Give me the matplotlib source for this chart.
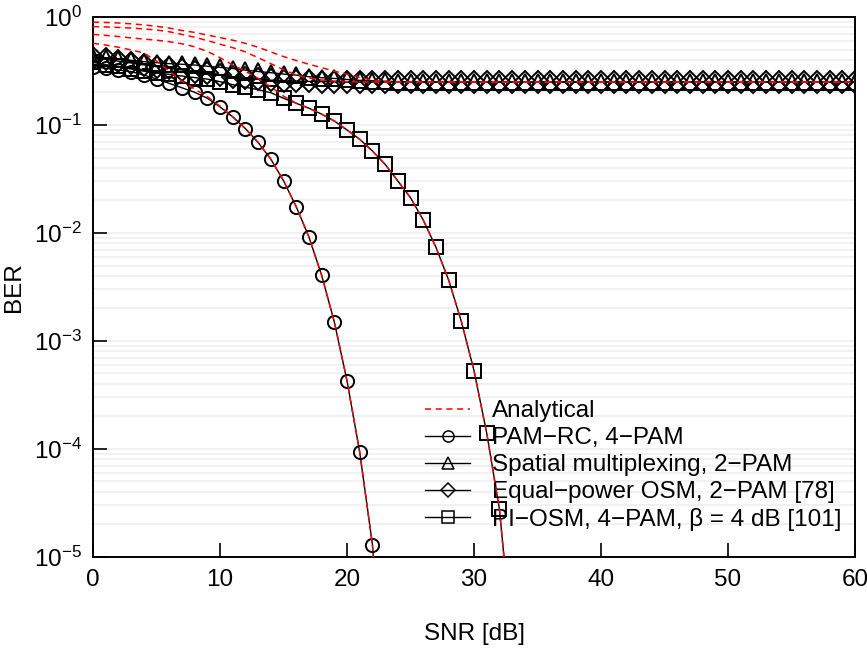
import matplotlib
matplotlib.use("Agg")
import matplotlib.pyplot as plt
from matplotlib.lines import Line2D
from matplotlib.ticker import LogLocator, NullFormatter

plt.rcParams['font.family'] = ['Liberation Sans', 'DejaVu Sans']
plt.rcParams['mathtext.fontset'] = 'custom'
plt.rcParams['mathtext.rm'] = 'Liberation Sans'
plt.rcParams['mathtext.it'] = 'Liberation Sans:italic'

# SNR grid in dB (one marker per dB)
snr = list(range(0, 61))

# simulated BER
pam_rc = [0.347, 0.335, 0.323, 0.312, 0.29, 0.267, 0.243, 0.221, 0.201, 0.177,
          0.147, 0.119, 0.0925, 0.0689, 0.0483, 0.0305, 0.0175, 0.00918, 0.00406,
          0.0015, 4.27e-4, 9.32e-5, 1.3e-5, 3e-7]
sm = [0.43, 0.42, 0.41, 0.397, 0.386, 0.378, 0.37, 0.365, 0.359, 0.35,
      0.342, 0.333, 0.322, 0.313, 0.305, 0.296, 0.29, 0.28, 0.274, 0.27,
      0.264, 0.259, 0.257, 0.254, 0.252, 0.251, 0.25, 0.25, 0.25, 0.25,
      0.25, 0.25, 0.25, 0.25, 0.25, 0.25, 0.25, 0.25, 0.25, 0.25,
      0.25, 0.25, 0.25, 0.25, 0.25, 0.25, 0.25, 0.25, 0.25, 0.25,
      0.25, 0.25, 0.25, 0.25, 0.25, 0.25, 0.25, 0.25, 0.25, 0.25, 0.25]
osm = [0.42, 0.405, 0.39, 0.375, 0.36, 0.347, 0.335, 0.323, 0.312, 0.3,
       0.29, 0.28, 0.272, 0.265, 0.26, 0.257, 0.255, 0.253, 0.252, 0.251,
       0.25, 0.25, 0.25, 0.25, 0.25, 0.25, 0.25, 0.25, 0.25, 0.25,
       0.25, 0.25, 0.25, 0.25, 0.25, 0.25, 0.25, 0.25, 0.25, 0.25,
       0.25, 0.25, 0.25, 0.25, 0.25, 0.25, 0.25, 0.25, 0.25, 0.25,
       0.25, 0.25, 0.25, 0.25, 0.25, 0.25, 0.25, 0.25, 0.25, 0.25, 0.25]
pi_osm = [0.38, 0.362, 0.35, 0.33, 0.315, 0.304, 0.294, 0.284, 0.275, 0.266,
          0.252, 0.236, 0.224, 0.212, 0.199, 0.177, 0.159, 0.143, 0.126, 0.109,
          0.0899, 0.0737, 0.0574, 0.0432, 0.0303, 0.0212, 0.0132, 0.00738, 0.00367,
          0.00152, 5.3e-4, 1.4e-4, 2.77e-5, 1.6e-6]

# analytical curves
ana_pam_rc = [0.571, 0.55, 0.525, 0.495, 0.465, 0.39, 0.315, 0.255, 0.215, 0.183,
              0.149, 0.119, 0.0925, 0.0689, 0.0483, 0.0305, 0.0175, 0.00918, 0.00406,
              0.0015, 4.27e-4, 9.32e-5, 1.3e-5, 3e-7]
ana_sm = [0.895, 0.89, 0.88, 0.865, 0.845, 0.82, 0.79, 0.75, 0.72, 0.68,
          0.645, 0.61, 0.57, 0.525, 0.475, 0.43, 0.395, 0.365, 0.34, 0.315,
          0.295, 0.275, 0.261, 0.254, 0.251, 0.25, 0.25, 0.25, 0.25, 0.25,
          0.25, 0.25, 0.25, 0.25, 0.25, 0.25, 0.25, 0.25, 0.25, 0.25,
          0.25, 0.25, 0.25, 0.25, 0.25, 0.25, 0.25, 0.25, 0.25, 0.25,
          0.25, 0.25, 0.25, 0.25, 0.25, 0.25, 0.25, 0.25, 0.25, 0.25, 0.25]
ana_osm = [0.815, 0.81, 0.8, 0.79, 0.775, 0.758, 0.73, 0.69, 0.65, 0.605,
           0.56, 0.52, 0.475, 0.42, 0.37, 0.325, 0.29, 0.272, 0.261, 0.255,
           0.252, 0.25, 0.25, 0.25, 0.25, 0.25, 0.25, 0.25, 0.25, 0.25,
           0.25, 0.25, 0.25, 0.25, 0.25, 0.25, 0.25, 0.25, 0.25, 0.25,
           0.25, 0.25, 0.25, 0.25, 0.25, 0.25, 0.25, 0.25, 0.25, 0.25,
           0.25, 0.25, 0.25, 0.25, 0.25, 0.25, 0.25, 0.25, 0.25, 0.25, 0.25]
ana_pi_osm = [0.69, 0.675, 0.66, 0.64, 0.625, 0.61, 0.59, 0.565, 0.53, 0.48,
              0.42, 0.36, 0.315, 0.27, 0.225, 0.185, 0.159, 0.143, 0.126, 0.109,
              0.0899, 0.0737, 0.0574, 0.0432, 0.0303, 0.0212, 0.0132, 0.00738, 0.00367,
              0.00152, 5.3e-4, 1.4e-4, 2.77e-5, 1.6e-6]

labels = ["Analytical", "PAM\u2212RC, 4\u2212PAM", "Spatial multiplexing, 2\u2212PAM",
          "Equal\u2212power OSM, 2\u2212PAM [78]", "PI\u2212OSM, 4\u2212PAM, \u03b2 = 4 dB [101]"]

fig = plt.figure(figsize=(8.67, 6.49), dpi=100)
ax = fig.add_axes([0.1073, 0.1418, 0.8789, 0.832])

mk = dict(color='black', lw=1.0, mfc='none', mec='black', mew=1.4)
ax.plot(snr[:len(pam_rc)], pam_rc, marker='o', ms=9.5, **mk)
ax.plot(snr, sm, marker='^', ms=12, **mk)
ax.plot(snr, osm, marker='D', ms=11, **mk)
ax.plot(snr[:len(pi_osm)], pi_osm, marker='s', ms=10, **mk)

red = dict(color='red', ls=(0, (4, 3)), lw=1.1, zorder=3)
ax.plot(snr[:len(ana_pam_rc)], ana_pam_rc, **red)
ax.plot(snr, ana_sm, **red)
ax.plot(snr, ana_osm, **red)
ax.plot(snr[:len(ana_pi_osm)], ana_pi_osm, **red)

ax.set_yscale('log')
ax.set_xlim(0, 60)
ax.set_ylim(1e-5, 1)
ax.set_xticks(range(0, 61, 10))
ax.yaxis.set_major_locator(LogLocator(base=10, numticks=10))
ax.yaxis.set_minor_locator(LogLocator(base=10, subs=range(2, 10), numticks=20))
ax.yaxis.set_minor_formatter(NullFormatter())
ax.grid(True, which='both', axis='y', color='#efefef', lw=1.2)
ax.set_axisbelow(True)
ax.tick_params(which='major', direction='in', length=10, width=1.2, labelsize=17.5)
ax.tick_params(axis='x', pad=9)
ax.tick_params(axis='y', pad=8)
ax.tick_params(which='minor', length=0)
for s in ax.spines.values():
    s.set_linewidth(1.4)

ax.set_xlabel("SNR [dB]", fontsize=17.5, labelpad=23)
ax.set_ylabel("BER", fontsize=17.5, labelpad=6)

hkw = dict(color='black', lw=1.0, mfc='none', mec='black', mew=1.1)
handles = [Line2D([], [], color='red', ls=(0, (4, 3)), lw=1.1),
           Line2D([], [], marker='o', ms=8, **hkw),
           Line2D([], [], marker='^', ms=9, **hkw),
           Line2D([], [], marker='D', ms=7.5, **hkw),
           Line2D([], [], marker='s', ms=8, **hkw)]
leg = ax.legend(handles, labels, loc='upper left', bbox_to_anchor=(0.4357, 0.29),
                frameon=False, fontsize=17.5, borderpad=0, borderaxespad=0,
                handlelength=1.85, handletextpad=0.9, labelspacing=0.2)
leg.set_zorder(1.5)

fig.savefig("out.png", dpi=100)
